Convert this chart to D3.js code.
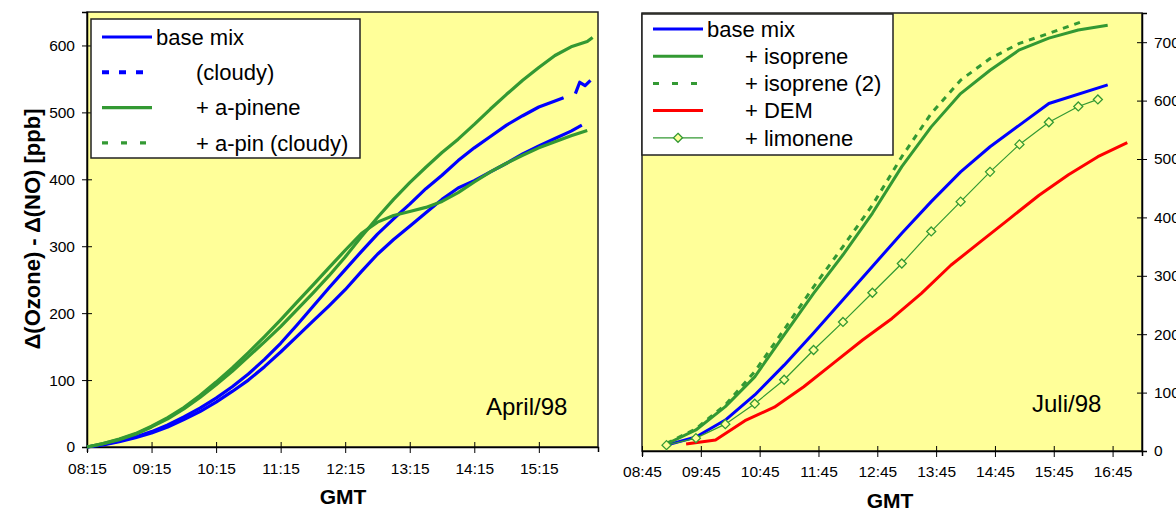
<!DOCTYPE html>
<html>
<head>
<meta charset="utf-8">
<script src="https://cdn.jsdelivr.net/npm/d3@7"></script>
<style>
body { margin: 0; background: #fff; }
svg { display: block; font-family: "Liberation Sans", Arial, sans-serif; }
</style>
</head>
<body>
<svg width="1176" height="508"></svg>
<script>
// ---- April/98 (left panel), [GMT, ppb]
var aprBaseMix = [["08:15",0],["08:30",4],["08:45",9],["09:00",15],["09:15",23],["09:30",33],["09:45",45],["10:00",58],
  ["10:15",73],["10:30",90],["10:45",109],["11:00",131],["11:15",155],["11:30",182],["11:45",210],["12:00",238],
  ["12:15",265],["12:30",292],["12:45",318],["13:00",341],["13:15",363],["13:30",386],["13:45",406],["14:00",428],
  ["14:15",447],["14:30",464],["14:45",481],["15:00",495],["15:15",508],["15:30",517],["15:38",522],["15:43",null],
  ["15:49",528],["15:53",545],["15:58",540],["16:03",548]];
var aprBaseCloudy = [["08:15",0],["08:30",3],["08:45",8],["09:00",14],["09:15",21],["09:30",30],["09:45",41],["10:00",53],
  ["10:15",67],["10:30",83],["10:45",100],["11:00",120],["11:15",142],["11:30",165],["11:45",188],["12:00",211],
  ["12:15",235],["12:30",262],["12:45",288],["13:00",310],["13:15",330],["13:30",350],["13:45",370],["14:00",387],
  ["14:15",398],["14:30",411],["14:45",424],["15:00",438],["15:15",450],["15:30",461],["15:45",472],["15:55",481]];
var aprPinene = [["08:15",0],["08:30",5],["08:45",11],["09:00",19],["09:15",30],["09:30",42],["09:45",57],["10:00",74],
  ["10:15",93],["10:30",113],["10:45",135],["11:00",157],["11:15",180],["11:30",205],["11:45",230],["12:00",256],
  ["12:15",284],["12:30",314],["12:45",343],["13:00",370],["13:15",395],["13:30",418],["13:45",440],["14:00",460],
  ["14:15",482],["14:30",505],["14:45",527],["15:00",548],["15:15",567],["15:30",585],["15:45",598],["16:00",606],["16:05",612]];
var aprPinCloudy = [["08:15",0],["08:30",5],["08:45",12],["09:00",20],["09:15",31],["09:30",44],["09:45",59],["10:00",77],
  ["10:15",97],["10:30",118],["10:45",141],["11:00",165],["11:15",190],["11:30",216],["11:45",242],["12:00",268],
  ["12:15",294],["12:30",319],["12:45",336],["13:00",346],["13:15",352],["13:30",358],["13:45",367],["14:00",380],
  ["14:15",396],["14:30",411],["14:45",424],["15:00",436],["15:15",447],["15:30",456],["15:45",465],["16:00",473]];

// ---- Juli/98 (right panel)
var julBaseMix = [["09:10",10],["09:40",24],["10:10",53],["10:40",96],["11:10",147],["11:40",202],["12:10",259],
  ["12:40",316],["13:10",373],["13:40",427],["14:10",478],["14:40",521],["15:10",558],["15:40",595],["16:40",627]];
var julIsoprene = [["09:10",12],["09:40",36],["10:10",76],["10:40",127],["11:10",199],["11:40",270],["12:10",336],
  ["12:40",407],["13:10",487],["13:40",555],["14:10",612],["14:40",652],["15:10",687],["15:40",707],["16:10",721],["16:40",729]];
var julIsoprene2 = [["09:10",13],["09:40",38],["10:10",79],["10:40",136],["11:10",208],["11:40",281],["12:10",350],
  ["12:40",421],["13:10",504],["13:40",578],["14:10",635],["14:40",672],["15:10",698],["15:40",715],["16:15",736]];
var julDEM = [["09:30",12],["10:00",19],["10:30",52],["11:00",75],["11:30",110],["12:00",150],["12:30",190],["13:00",227],
  ["13:30",270],["14:00",318],["14:30",358],["15:00",398],["15:30",438],["16:00",473],["16:30",504],["17:00",528]];
var julLimonene = [["09:10",10],["09:40",22],["10:10",46],["10:40",81],["11:10",122],["11:40",173],["12:10",221],
  ["12:40",271],["13:10",321],["13:40",376],["14:10",427],["14:40",478],["15:10",525],["15:40",563],["16:10",590],["16:30",602]];

// tick labels
var aprTicks = ["08:15","09:15","10:15","11:15","12:15","13:15","14:15","15:15"];
var julTicks = ["08:45","09:45","10:45","11:45","12:45","13:45","14:45","15:45","16:45"];
var aprYTicks = [0,100,200,300,400,500,600];
var julYTicks = [0,100,200,300,400,500,600,700];

var BLUE = "#0000ff", GREEN = "#339933", RED = "#ff0000", PLOTBG = "#ffff99";
var parseT = d3.timeParse("%H:%M");
var svg = d3.select("svg");

function panel(p) {
  var x = d3.scaleTime().domain([parseT(p.xFrom), parseT(p.xTo)]).range([p.left, p.right]);
  var y = d3.scaleLinear().domain([0, p.yMax]).range([p.bottom, p.top]);
  var g = svg.append("g");

  g.append("rect").attr("x", p.left).attr("y", p.top)
    .attr("width", p.right - p.left).attr("height", p.bottom - p.top)
    .attr("fill", PLOTBG).attr("stroke", "#222").attr("stroke-width", 1.5);

  // x axis, ticks cross the line
  var xa = g.append("g").attr("transform", "translate(0," + p.bottom + ")")
    .call(d3.axisBottom(x).tickValues(p.xTicks.map(parseT)).tickFormat(d3.timeFormat("%H:%M")).tickSizeOuter(0).tickSize(5));
  xa.selectAll(".tick line").attr("y1", -5).attr("y2", 6);
  xa.selectAll("text").attr("y", p.xLabelDy).attr("dy", null).attr("font-size", 15.5).attr("fill", "#000").attr("font-family", null);
  xa.select(".domain").attr("stroke-width", 1.5);

  var ya = g.append("g").attr("transform", "translate(" + p.yAxisX + ",0)")
    .call((p.yRight ? d3.axisRight(y) : d3.axisLeft(y)).tickValues(p.yTicks).tickSizeOuter(0).tickSize(5).tickPadding(p.yPad));
  ya.selectAll(".tick line").attr("x1", p.yRight ? -5 : 5);
  ya.selectAll("text").attr("font-size", 15.5).attr("fill", "#000").attr("font-family", null);
  ya.select(".domain").attr("stroke-width", 1.5);

  var line = d3.line()
    .defined(function(d) { return d[1] !== null; })
    .x(function(d) { return x(parseT(d[0])); })
    .y(function(d) { return y(d[1]); });

  p.series.forEach(function(s) {
    g.append("path").datum(s.data).attr("d", line)
      .attr("fill", "none").attr("stroke", s.color).attr("stroke-width", s.width)
      .attr("stroke-dasharray", s.plotDash || null)
      .attr("stroke-linejoin", "round");
    if (s.marker) {
      g.selectAll(null).data(s.data).enter().append("path")
        .attr("d", "M0,-4.5L4.5,0L0,4.5L-4.5,0Z")
        .attr("transform", function(d) { return "translate(" + x(parseT(d[0])) + "," + y(d[1]) + ")"; })
        .attr("fill", PLOTBG).attr("stroke", s.color).attr("stroke-width", 1.3);
    }
  });

  // legend
  var L = p.legend;
  g.append("rect").attr("x", L.x).attr("y", L.y).attr("width", L.w).attr("height", L.h)
    .attr("fill", "#fff").attr("stroke", "#222").attr("stroke-width", 1.5);
  p.series.forEach(function(s, i) {
    var cy = L.firstY + i * L.step;
    g.append("line").attr("x1", L.x + 11).attr("x2", L.x + 61).attr("y1", cy).attr("y2", cy)
      .attr("stroke", s.color).attr("stroke-width", s.legWidth || s.width)
      .attr("stroke-dasharray", s.legDash || null);
    if (s.marker) {
      g.append("path").attr("d", "M0,-4.5L4.5,0L0,4.5L-4.5,0Z")
        .attr("transform", "translate(" + (L.x + 36) + "," + cy + ")")
        .attr("fill", PLOTBG).attr("stroke", s.color).attr("stroke-width", 1.3);
    }
    g.append("text").attr("x", i === 0 ? L.x + 65 : L.textX).attr("y", cy).attr("dy", "0.35em")
      .attr("font-size", 22).text(s.name);
  });

  g.append("text").attr("x", p.tag[0]).attr("y", p.tag[1]).attr("font-size", 24).text(p.tagText);
  g.append("text").attr("x", p.gmtX).attr("y", p.gmtY).attr("text-anchor", "middle")
    .attr("font-size", 21).attr("font-weight", "bold").text("GMT");
}

panel({
  left: 87, right: 598, top: 12, bottom: 447, xFrom: "08:15", xTo: "16:10", yMax: 650,
  xTicks: aprTicks, yTicks: aprYTicks, yAxisX: 87, yRight: false, yPad: 7, xLabelDy: 27,
  series: [
    { name: "base mix", data: aprBaseMix, color: BLUE, width: 3.2 },
    { name: "(cloudy)", data: aprBaseCloudy, color: BLUE, width: 3.2, legWidth: 4, legDash: "7,10" },
    { name: "+ a-pinene", data: aprPinene, color: GREEN, width: 3.2 },
    { name: "+ a-pin (cloudy)", data: aprPinCloudy, color: GREEN, width: 3.2, legDash: "6,13" }
  ],
  legend: { x: 91, y: 19, w: 269, h: 139, firstY: 37, step: 35.3, textX: 196 },
  tag: [486, 415], tagText: "April/98", gmtX: 343, gmtY: 504
});

panel({
  left: 642, right: 1142, top: 13, bottom: 451, xFrom: "08:45", xTo: "17:15", yMax: 750,
  xTicks: julTicks, yTicks: julYTicks, yAxisX: 1142, yRight: true, yPad: 7, xLabelDy: 26,
  series: [
    { name: "base mix", data: julBaseMix, color: BLUE, width: 3 },
    { name: "+ isoprene", data: julIsoprene, color: GREEN, width: 3 },
    { name: "+ isoprene (2)", data: julIsoprene2, color: GREEN, width: 3, plotDash: "6,6", legDash: "6,13" },
    { name: "+ DEM", data: julDEM, color: RED, width: 3 },
    { name: "+ limonene", data: julLimonene, color: GREEN, width: 1.2, marker: true }
  ],
  legend: { x: 642, y: 14, w: 251, h: 141, firstY: 29, step: 27.2, textX: 745 },
  tag: [1032, 412], tagText: "Juli/98", gmtX: 890, gmtY: 508
});

// y axis title
svg.append("text").attr("transform", "translate(32,229) rotate(-90)")
  .attr("text-anchor", "middle").attr("dy", "0.35em")
  .attr("font-size", 22).attr("font-weight", "bold")
  .text("\u0394(Ozone) - \u0394(NO) [ppb]");
</script>
</body>
</html>
